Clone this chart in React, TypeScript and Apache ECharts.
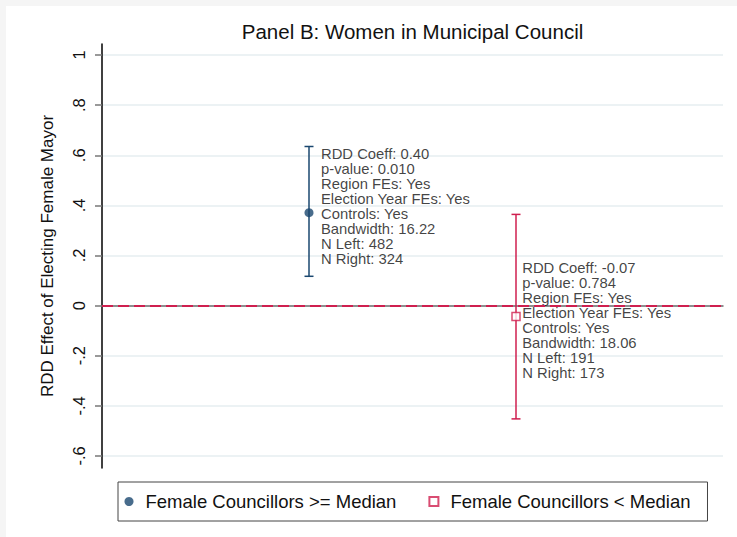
import React, { useEffect, useRef } from 'react';
import * as echarts from 'echarts';

const chartTitle = 'Panel B: Women in Municipal Council';
const yAxisTitle = 'RDD Effect of Electing Female Mayor';
const yTicks = [-0.6, -0.4, -0.2, 0, 0.2, 0.4, 0.6, 0.8, 1];
const groups = ['Female Councillors >= Median', 'Female Councillors < Median'];
const xPositions = [1, 2];
const estimates = [0.371, -0.043];
const ciLow = [0.117, -0.452];
const ciHigh = [0.635, 0.364];
const annotationBlue = [
  'RDD Coeff: 0.40',
  'p-value: 0.010',
  'Region FEs: Yes',
  'Election Year FEs: Yes',
  'Controls: Yes',
  'Bandwidth: 16.22',
  'N Left: 482',
  'N Right: 324',
];
const annotationRed = [
  'RDD Coeff: -0.07',
  'p-value: 0.784',
  'Region FEs: Yes',
  'Election Year FEs: Yes',
  'Controls: Yes',
  'Bandwidth: 18.06',
  'N Left: 191',
  'N Right: 173',
];

const FONT = '"Liberation Sans", Arial, Helvetica, sans-serif';
const BLUE = '#1a476f';
const RED = '#cf1f4f';

function fmtTick(v: number): string {
  if (Math.abs(v) < 1e-9) return '0';
  if (Math.abs(v - 1) < 1e-9) return '1';
  const s = v.toFixed(1);
  return s.replace('0.', '.');
}

function ciRenderer(color: string) {
  return (params: any, api: any) => {
    const x = api.value(0);
    const lo = api.value(1);
    const hi = api.value(2);
    const top = api.coord([x, hi]);
    const bot = api.coord([x, lo]);
    const hw = 4.5;
    const style = { stroke: color, lineWidth: 1.5 };
    return {
      type: 'group',
      children: [
        { type: 'line', shape: { x1: top[0], y1: top[1], x2: bot[0], y2: bot[1] }, style },
        { type: 'line', shape: { x1: top[0] - hw, y1: top[1], x2: top[0] + hw, y2: top[1] }, style },
        { type: 'line', shape: { x1: bot[0] - hw, y1: bot[1], x2: bot[0] + hw, y2: bot[1] }, style },
      ],
    };
  };
}

export default function App() {
  const ref = useRef<HTMLDivElement>(null);
  useEffect(() => {
    document.body.style.margin = '0';
    if (!ref.current) return;
    const chart = echarts.init(ref.current, undefined, { renderer: 'svg' });
    const labelBase = {
      show: true,
      position: 'right',
      fontSize: 14.8,
      lineHeight: 15,
      color: '#111',
      fontFamily: FONT,
    };
    chart.setOption({
      animation: false,
      backgroundColor: '#ffffff',
      graphic: [
        { type: 'rect', left: 0, top: 0, shape: { width: 6, height: 537 }, style: { fill: '#f5f5f5' }, z: -10 },
        { type: 'rect', left: 0, top: 0, shape: { width: 737, height: 6 }, style: { fill: '#f5f5f5' }, z: -10 },
      ],
      title: {
        text: chartTitle,
        left: 412.5,
        top: 21,
        padding: 0,
        textAlign: 'center',
        textStyle: { fontSize: 20.5, fontWeight: 'normal', color: '#111', fontFamily: FONT },
      },
      grid: { left: 102, right: 14, top: 44, bottom: 69, containLabel: false },
      xAxis: {
        type: 'value',
        min: 0,
        max: 3,
        axisLine: { show: true, lineStyle: { color: '#6e6e6e', width: 1.5 } },
        axisTick: { show: false },
        axisLabel: { show: false },
        splitLine: { show: false },
      },
      yAxis: {
        type: 'value',
        min: -0.648,
        max: 1.044,
        axisLine: { show: true, lineStyle: { color: '#000', width: 1.5 } },
        axisTick: { show: true, length: 7, lineStyle: { color: '#777', width: 1.5 }, customValues: yTicks },
        axisLabel: {
          rotate: 90,
          margin: 15,
          customValues: yTicks,
          formatter: (v: number) => fmtTick(v),
          fontSize: 16.5,
          color: '#111',
          fontFamily: FONT,
        },
        splitLine: { show: true, lineStyle: { color: '#e6eef1', width: 1.5 } },
        name: yAxisTitle,
        nameLocation: 'middle',
        nameGap: 46,
        nameRotate: 90,
        nameTextStyle: { fontSize: 17, color: '#111', fontFamily: FONT },
      },
      legend: {
        data: groups,
        left: 118,
        top: 482,
        orient: 'horizontal',
        itemWidth: 9,
        itemHeight: 9,
        itemGap: 32,
        padding: [10, 17, 10, 6.5],
        borderColor: '#444',
        borderWidth: 1,
        backgroundColor: '#fff',
        selectedMode: false,
        textStyle: { fontSize: 18.5, color: '#111', fontFamily: FONT, padding: [0, 0, 0, 7] },
      },
      series: [
        {
          name: 'zero line',
          type: 'line',
          data: [],
          z: 1,
          markLine: {
            silent: true,
            symbol: ['none', 'none'],
            label: { show: false },
            lineStyle: { color: RED, type: [11, 5], width: 2 },
            data: [{ yAxis: 0 }],
          },
        },
        {
          name: 'CI ' + groups[0],
          type: 'custom',
          renderItem: ciRenderer(BLUE),
          encode: { x: 0, y: [1, 2] },
          data: [[xPositions[0], ciLow[0], ciHigh[0]]],
          z: 2,
        },
        {
          name: 'CI ' + groups[1],
          type: 'custom',
          renderItem: ciRenderer(RED),
          encode: { x: 0, y: [1, 2] },
          data: [[xPositions[1], ciLow[1], ciHigh[1]]],
          z: 2,
        },
        {
          name: groups[0],
          type: 'scatter',
          symbol: 'circle',
          symbolSize: 9,
          itemStyle: { color: BLUE },
          z: 3,
          label: { ...labelBase, distance: 7.5, offset: [0, -6.5], formatter: annotationBlue.join('\n') },
          data: [[xPositions[0], estimates[0]]],
        },
        {
          name: groups[1],
          type: 'scatter',
          symbol: 'rect',
          symbolSize: 8,
          itemStyle: { color: '#fff', borderColor: RED, borderWidth: 1.5 },
          z: 3,
          label: { ...labelBase, distance: 1.5, offset: [0, 4], formatter: annotationRed.join('\n') },
          data: [[xPositions[1], estimates[1]]],
        },
      ],
    });
    return () => chart.dispose();
  }, []);
  return <div ref={ref} style={{ width: 737, height: 537 }} />;
}
